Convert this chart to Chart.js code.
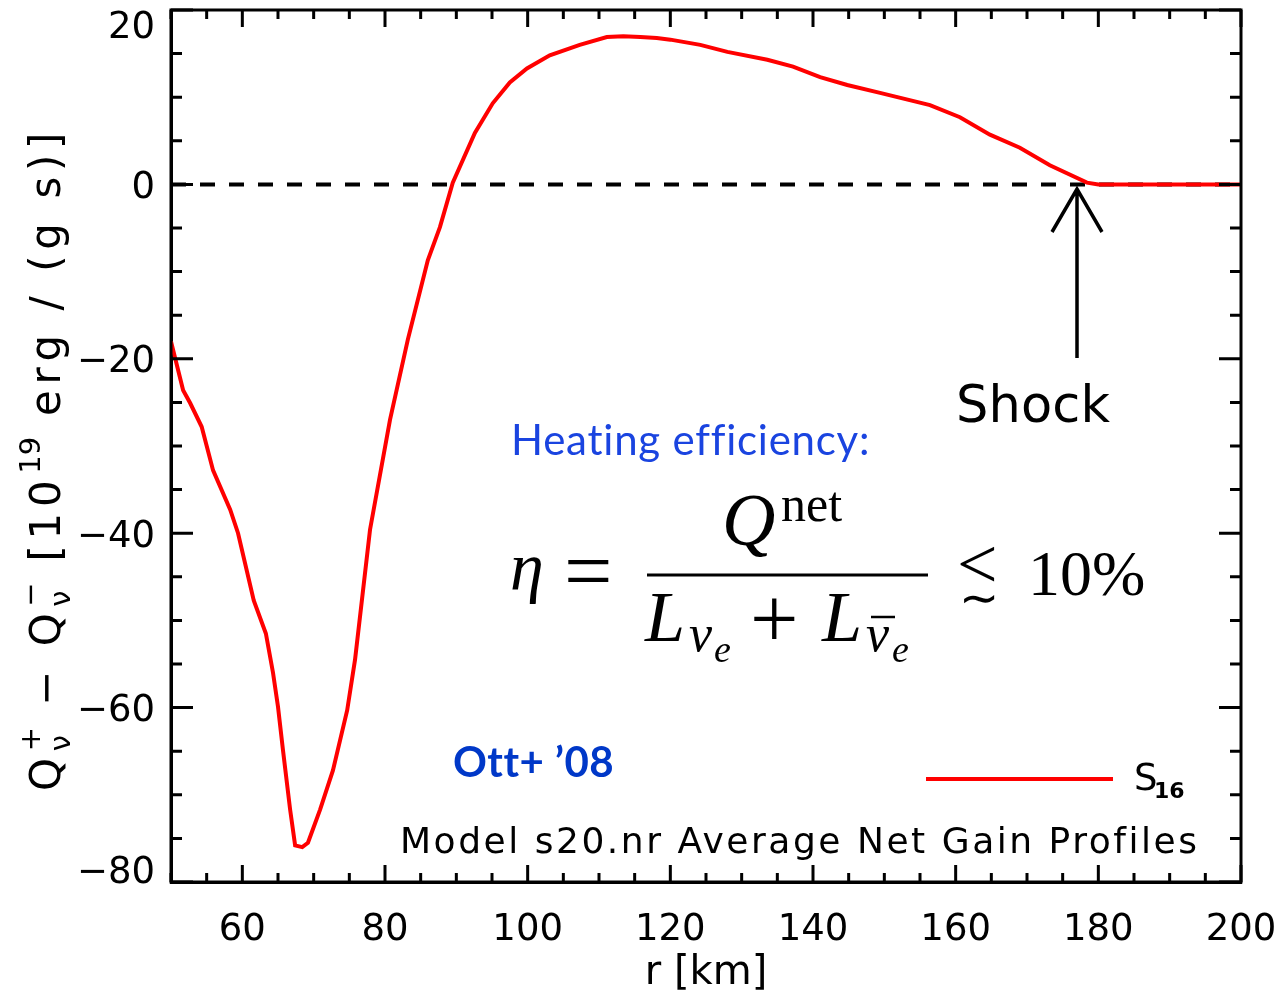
<!DOCTYPE html>
<html>
<head>
<meta charset="utf-8">
<script src="https://cdn.jsdelivr.net/npm/chart.js@4.4.1/dist/chart.umd.min.js"></script>
<style>
body { margin: 0; background: #fff; }
#wrap { width: 1282px; height: 1001px; }
</style>
</head>
<body>
<div id="wrap"><canvas id="gain"></canvas></div>
<script>
// averaged net neutrino gain profile
var radius = [50, 51.7, 52.7, 54.3, 55.9, 58.3, 59.4, 61.6, 63.3, 64.3, 65.0, 65.7, 66.7, 67.4, 68.4, 69.2,
    70.9, 72.7, 74.7, 75.8, 77.9, 80.7, 83.2, 86.0, 87.7, 89.5, 92.6, 95.1, 97.5, 99.9, 103.1, 107.3,
    111.1, 113.4, 115.8, 118.1, 120, 124.2, 128, 133.6, 137.2, 141, 144.8, 149.4, 156.4, 160.6, 164.8,
    169, 173.2, 178.4, 180, 200];
var netGain = [-18, -23.6, -25.1, -27.8, -32.8, -37.3, -40, -47.7, -51.5, -56, -59.9, -64.9, -71.7, -75.8, -76, -75.5,
    -71.7, -67.2, -60.3, -54.5, -39.6, -27, -17.8, -8.7, -4.9, 0.2, 5.9, 9.3, 11.7, 13.3, 14.8, 16.0,
    16.9, 17.0, 16.9, 16.8, 16.6, 16.0, 15.2, 14.3, 13.5, 12.3, 11.4, 10.5, 9.1, 7.7, 5.7,
    4.2, 2.2, 0.2, 0, 0];
var zeroX = [50, 200];
var zeroY = [0, 0];
var xTickLabels = [60, 80, 100, 120, 140, 160, 180, 200];
var yTickLabels = [20, 0, -20, -40, -60, -80];
var seriesName = 'S';
var seriesSub = '16';

function pts(xs, ys) {
    var out = [];
    for (var i = 0; i < xs.length; i++) out.push({x: xs[i], y: ys[i]});
    return out;
}

var IDL = '"DejaVu Sans"';
var TEX = '"Liberation Serif"';

function fitText(ctx, s, x, y, w) {
    ctx.letterSpacing = '0px';
    var m = ctx.measureText(s).width;
    if (m > w) {
        ctx.fillText(s, x, y, w);
    } else {
        ctx.letterSpacing = ((w - m) / (s.length - 1)) + 'px';
        ctx.fillText(s, x, y);
        ctx.letterSpacing = '0px';
    }
}

function put(ctx, s, x, y, font, color) {
    ctx.font = font;
    ctx.fillStyle = color || '#000';
    ctx.fillText(s, x, y);
    return ctx.measureText(s).width;
}

// y axis title, drawn as runs so the sub/superscripts work
var yTitleRuns = [
    {t: 'Q'}, {sup: '+', sub: '\u03bd'}, {t: ' \u2212 '}, {t: 'Q'}, {sup: '\u2212', sub: '\u03bd'},
    {t: ' [10'}, {sup: '19'}, {t: ' erg / (g s)]'}
];

function runs(ctx, list, x, y, sp, draw) {
    var big = '42px ' + IDL, small = '29px ' + IDL;
    var w = 0, n = 0;
    list.forEach(function (r) {
        if (r.t) {
            ctx.font = big;
            for (var i = 0; i < r.t.length; i++) {
                var c = r.t[i];
                if (draw) ctx.fillText(c, x + w, y);
                w += ctx.measureText(c).width + sp;
                n++;
            }
        } else {
            ctx.font = small;
            var a = 0, b = 0;
            if (r.sup) { if (draw) ctx.fillText(r.sup, x + w + 1, y - 20); a = ctx.measureText(r.sup).width + 3; }
            if (r.sub) { if (draw) ctx.fillText(r.sub, x + w + 1, y + 10); b = ctx.measureText(r.sub).width + 3; }
            w += Math.max(a, b);
        }
    });
    return {w: w, n: n};
}

var decor = {
    id: 'decor',
    afterDatasetsDraw: function (chart) {
        var ctx = chart.ctx, a = chart.chartArea, sx = chart.scales.x, sy = chart.scales.y;
        ctx.save();
        ctx.strokeStyle = '#000';
        ctx.lineWidth = 3;
        ctx.strokeRect(a.left, a.top, a.right - a.left, a.bottom - a.top);

        // inward ticks on all four sides
        ctx.beginPath();
        sx.ticks.forEach(function (t) {
            var px = sx.getPixelForValue(t.value);
            var len = t.value % 20 === 0 ? 17 : 9;
            ctx.moveTo(px, a.bottom); ctx.lineTo(px, a.bottom - len);
            ctx.moveTo(px, a.top); ctx.lineTo(px, a.top + len);
        });
        sy.ticks.forEach(function (t) {
            var py = sy.getPixelForValue(t.value);
            var len = t.value % 20 === 0 ? 22 : 11;
            ctx.moveTo(a.left, py); ctx.lineTo(a.left + len, py);
            ctx.moveTo(a.right, py); ctx.lineTo(a.right - len, py);
        });
        ctx.stroke();

        // y tick labels (ends pulled inside like IDL does)
        ctx.font = '37px ' + IDL;
        ctx.fillStyle = '#000';
        ctx.textAlign = 'right';
        ctx.textBaseline = 'alphabetic';
        yTickLabels.forEach(function (v, i) {
            var py = sy.getPixelForValue(v) + 13.5;
            if (i === 0) py += 14;
            if (i === yTickLabels.length - 1) py -= 13;
            ctx.fillText(v < 0 ? '\u2212' + Math.abs(v) : String(v), 155, py);
        });
        ctx.textAlign = 'left';

        // y title, spread to the same length as the original
        ctx.save();
        ctx.translate(60, 459);
        ctx.rotate(-Math.PI / 2);
        var m = runs(ctx, yTitleRuns, 0, 0, 0, false);
        var sp = (664 - m.w) / m.n;
        runs(ctx, yTitleRuns, -332, 0, sp, true);
        ctx.restore();

        // legend
        ctx.beginPath();
        ctx.strokeStyle = '#ff0000';
        ctx.lineWidth = 4;
        ctx.moveTo(926, 779); ctx.lineTo(1113, 779);
        ctx.stroke();
        put(ctx, seriesName, 1134, 790, '37px ' + IDL);
        put(ctx, seriesSub, 1154, 798, 'bold 22px ' + IDL);

        // caption
        ctx.font = '36px ' + IDL;
        fitText(ctx, 'Model s20.nr Average Net Gain Profiles', 400, 853, 797);

        // shock marker
        ctx.font = '51px ' + IDL;
        fitText(ctx, 'Shock', 956, 422, 154);
        ctx.beginPath();
        ctx.strokeStyle = '#000';
        ctx.lineWidth = 3.5;
        ctx.moveTo(1077, 358); ctx.lineTo(1077, 189);
        ctx.moveTo(1052, 232); ctx.lineTo(1077, 189); ctx.lineTo(1102, 232);
        ctx.stroke();

        // blue notes
        ctx.font = '42px Lato';
        ctx.fillStyle = '#1a44e0';
        fitText(ctx, 'Heating efficiency:', 511, 455, 357);
        ctx.font = 'bold 42px Lato';
        ctx.fillStyle = '#0038c8';
        fitText(ctx, 'Ott+ \u201908', 453, 777, 159);

        // heating efficiency formula
        ctx.fillStyle = '#000';
        put(ctx, '\u03b7', 510, 590, 'italic 68px ' + TEX);
        put(ctx, '=', 564, 600, '86px ' + TEX);
        ctx.beginPath();
        ctx.lineWidth = 3;
        ctx.moveTo(647, 575); ctx.lineTo(928, 575);
        ctx.stroke();
        put(ctx, 'Q', 722, 545, 'italic 74px ' + TEX);
        put(ctx, 'net', 781, 521, '50px ' + TEX);
        put(ctx, 'L', 645, 641, 'italic 72px ' + TEX);
        put(ctx, '\u03bd', 689, 651, 'italic 52px ' + TEX);
        put(ctx, 'e', 714, 662, 'italic 38px ' + TEX);
        put(ctx, '+', 750, 648, '86px ' + TEX);
        put(ctx, 'L', 822, 641, 'italic 72px ' + TEX);
        put(ctx, '\u03bd', 866, 651, 'italic 52px ' + TEX);
        ctx.beginPath();
        ctx.lineWidth = 2.5;
        ctx.moveTo(871, 617); ctx.lineTo(895, 617);
        ctx.stroke();
        put(ctx, 'e', 892, 662, 'italic 38px ' + TEX);
        put(ctx, '<', 957, 588, '72px ' + TEX);
        put(ctx, '\u223c', 959, 614, '48px ' + IDL);
        put(ctx, '10%', 1028, 595, '64px ' + TEX);
        ctx.restore();
    }
};

new Chart(document.getElementById('gain'), {
    type: 'scatter',
    data: {
        datasets: [
            {
                label: seriesName + seriesSub,
                data: pts(radius, netGain),
                showLine: true,
                borderColor: '#ff0000',
                borderWidth: 4,
                pointRadius: 0,
                tension: 0
            },
            {
                label: 'zero',
                data: pts(zeroX, zeroY),
                showLine: true,
                borderColor: '#000',
                borderWidth: 4,
                borderDash: [15, 14],
                pointRadius: 0
            }
        ]
    },
    options: {
        responsive: true,
        maintainAspectRatio: false,
        animation: false,
        layout: { padding: { top: 10, right: 41, left: 0, bottom: 0 } },
        plugins: { legend: { display: false }, tooltip: { enabled: false } },
        scales: {
            x: {
                type: 'linear',
                min: 50,
                max: 200,
                afterFit: function (s) { s.height = 119; s.paddingRight = 0; s.paddingLeft = 0; },
                grid: { display: false, drawTicks: false },
                border: { display: true, color: '#000', width: 3 },
                ticks: {
                    stepSize: 5,
                    autoSkip: false,
                    maxRotation: 0,
                    padding: 26,
                    color: '#000',
                    font: { family: 'DejaVu Sans', size: 37 },
                    callback: function (v) { return xTickLabels.indexOf(v) >= 0 ? String(v) : ''; }
                },
                title: {
                    display: true,
                    text: 'r [km]',
                    color: '#000',
                    font: { family: 'DejaVu Sans', size: 40 },
                    padding: { top: 0, bottom: 3 }
                }
            },
            y: {
                type: 'linear',
                min: -80,
                max: 20,
                afterFit: function (s) { s.width = 171; },
                grid: { display: false, drawTicks: false },
                border: { display: true, color: '#000', width: 3 },
                ticks: { stepSize: 5, display: false }
            }
        }
    },
    plugins: [decor]
});
</script>
</body>
</html>
